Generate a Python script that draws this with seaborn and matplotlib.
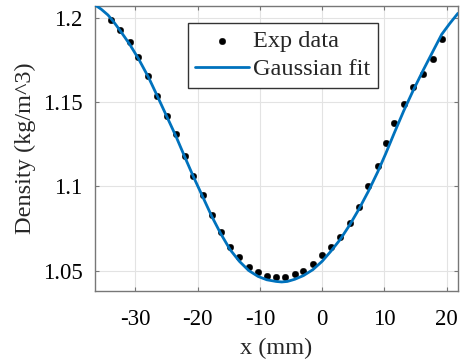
import numpy as np
import pandas as pd
import matplotlib
matplotlib.use("Agg")
import matplotlib.pyplot as plt
import seaborn as sns
from matplotlib.ticker import FuncFormatter

# Experimental data (x in mm, density in kg/m^3)
exp_x = [-33.9, -32.4, -30.9, -29.5, -27.9, -26.5, -25.0, -23.5, -22.0, -20.7,
         -19.2, -17.7, -16.3, -14.8, -13.3, -11.8, -10.3, -8.9, -7.4, -5.9,
         -4.4, -3.0, -1.5, 0.0, 1.4, 2.9, 4.4, 5.9, 7.4, 8.9,
         10.2, 11.6, 13.1, 14.6, 16.2, 17.8, 19.2]
exp_y = [1.199, 1.193, 1.186, 1.177, 1.166, 1.154, 1.142, 1.131, 1.118, 1.106,
         1.095, 1.083, 1.073, 1.064, 1.058, 1.052, 1.049, 1.047, 1.046, 1.046,
         1.048, 1.050, 1.054, 1.059, 1.064, 1.070, 1.078, 1.088, 1.100, 1.112,
         1.126, 1.138, 1.149, 1.159, 1.167, 1.176, 1.188]

# Gaussian fit curve
fit_x = [-36.5, -35.5, -34.4, -33.5, -32.4, -30.9, -29.5, -27.9, -26.5, -25.0,
         -23.5, -22.0, -20.7, -19.2, -17.7, -16.3, -14.8, -13.3, -11.8, -10.3,
         -8.9, -7.4, -6.5, -5.6, -4.4, -3.0, -1.5, 0.0, 1.4, 2.9,
         4.4, 5.9, 7.4, 8.9, 10.2, 11.6, 13.1, 14.6, 16.2, 17.8,
         19.2, 20.5, 21.8]
fit_y = [1.208, 1.2055, 1.202, 1.198, 1.1925, 1.1845, 1.176, 1.165, 1.154, 1.142,
         1.130, 1.117, 1.106, 1.094, 1.082, 1.072, 1.0625, 1.0555, 1.0500, 1.0465,
         1.0445, 1.0435, 1.0432, 1.0435, 1.0448, 1.0470, 1.0505, 1.0555, 1.0615, 1.0685,
         1.0770, 1.0865, 1.0970, 1.1085, 1.1195, 1.1320, 1.1450, 1.1570, 1.1690, 1.1805,
         1.1905, 1.1970, 1.2030]

xticks = [-30, -20, -10, 0, 10, 20]
yticks = [1.05, 1.1, 1.15, 1.2]

sns.set_style("whitegrid")
plt.rcParams["font.family"] = ["Liberation Serif", "DejaVu Serif"]
plt.rcParams["axes.unicode_minus"] = False

fig = plt.figure(figsize=(4.63, 3.6), dpi=100)
ax = fig.add_axes([0.205, 0.1925, 0.784, 0.7905])

df_exp = pd.DataFrame({"x": exp_x, "y": exp_y})
df_fit = pd.DataFrame({"x": fit_x, "y": fit_y})

sns.scatterplot(data=df_exp, x="x", y="y", ax=ax, color="black", s=22,
                edgecolor="black", linewidth=0.3, label="Exp data", zorder=3)
sns.lineplot(data=df_fit, x="x", y="y", ax=ax, color="#0072BD", linewidth=2.0,
             label="Gaussian fit", sort=False, zorder=4)

ax.set_xlim(-36.5, 21.8)
ax.set_ylim(1.038, 1.2073)
ax.set_xticks(xticks)
ax.set_yticks(yticks)
ax.yaxis.set_major_formatter(FuncFormatter(lambda v, p: "%g" % v))
ax.xaxis.set_major_formatter(FuncFormatter(lambda v, p: "%g" % v))

ax.grid(True, color="#e3e3e3", linewidth=0.8)
for s in ax.spines.values():
    s.set_color("#777777")
    s.set_linewidth(1.0)
ax.tick_params(direction="in", length=3, width=0.8, color="#777777",
               top=True, right=True, bottom=True, left=True,
               labelsize=16.5, labelcolor="black")
ax.tick_params(axis="x", pad=13)
ax.tick_params(axis="y", pad=9)

ax.set_xlabel("x (mm)", fontsize=17.5, labelpad=6)
ax.set_ylabel("Density (kg/m^3)", fontsize=17.5, labelpad=5)

leg = ax.legend(loc="upper left", bbox_to_anchor=(0.256, 0.941),
                borderaxespad=0, fontsize=17.5, frameon=True, fancybox=False,
                edgecolor="#333333", framealpha=1, handlelength=2.2,
                handletextpad=0.2, borderpad=0.3, labelspacing=0.25)
leg.get_frame().set_linewidth(1.0)

fig.savefig("out.png", dpi=100)
